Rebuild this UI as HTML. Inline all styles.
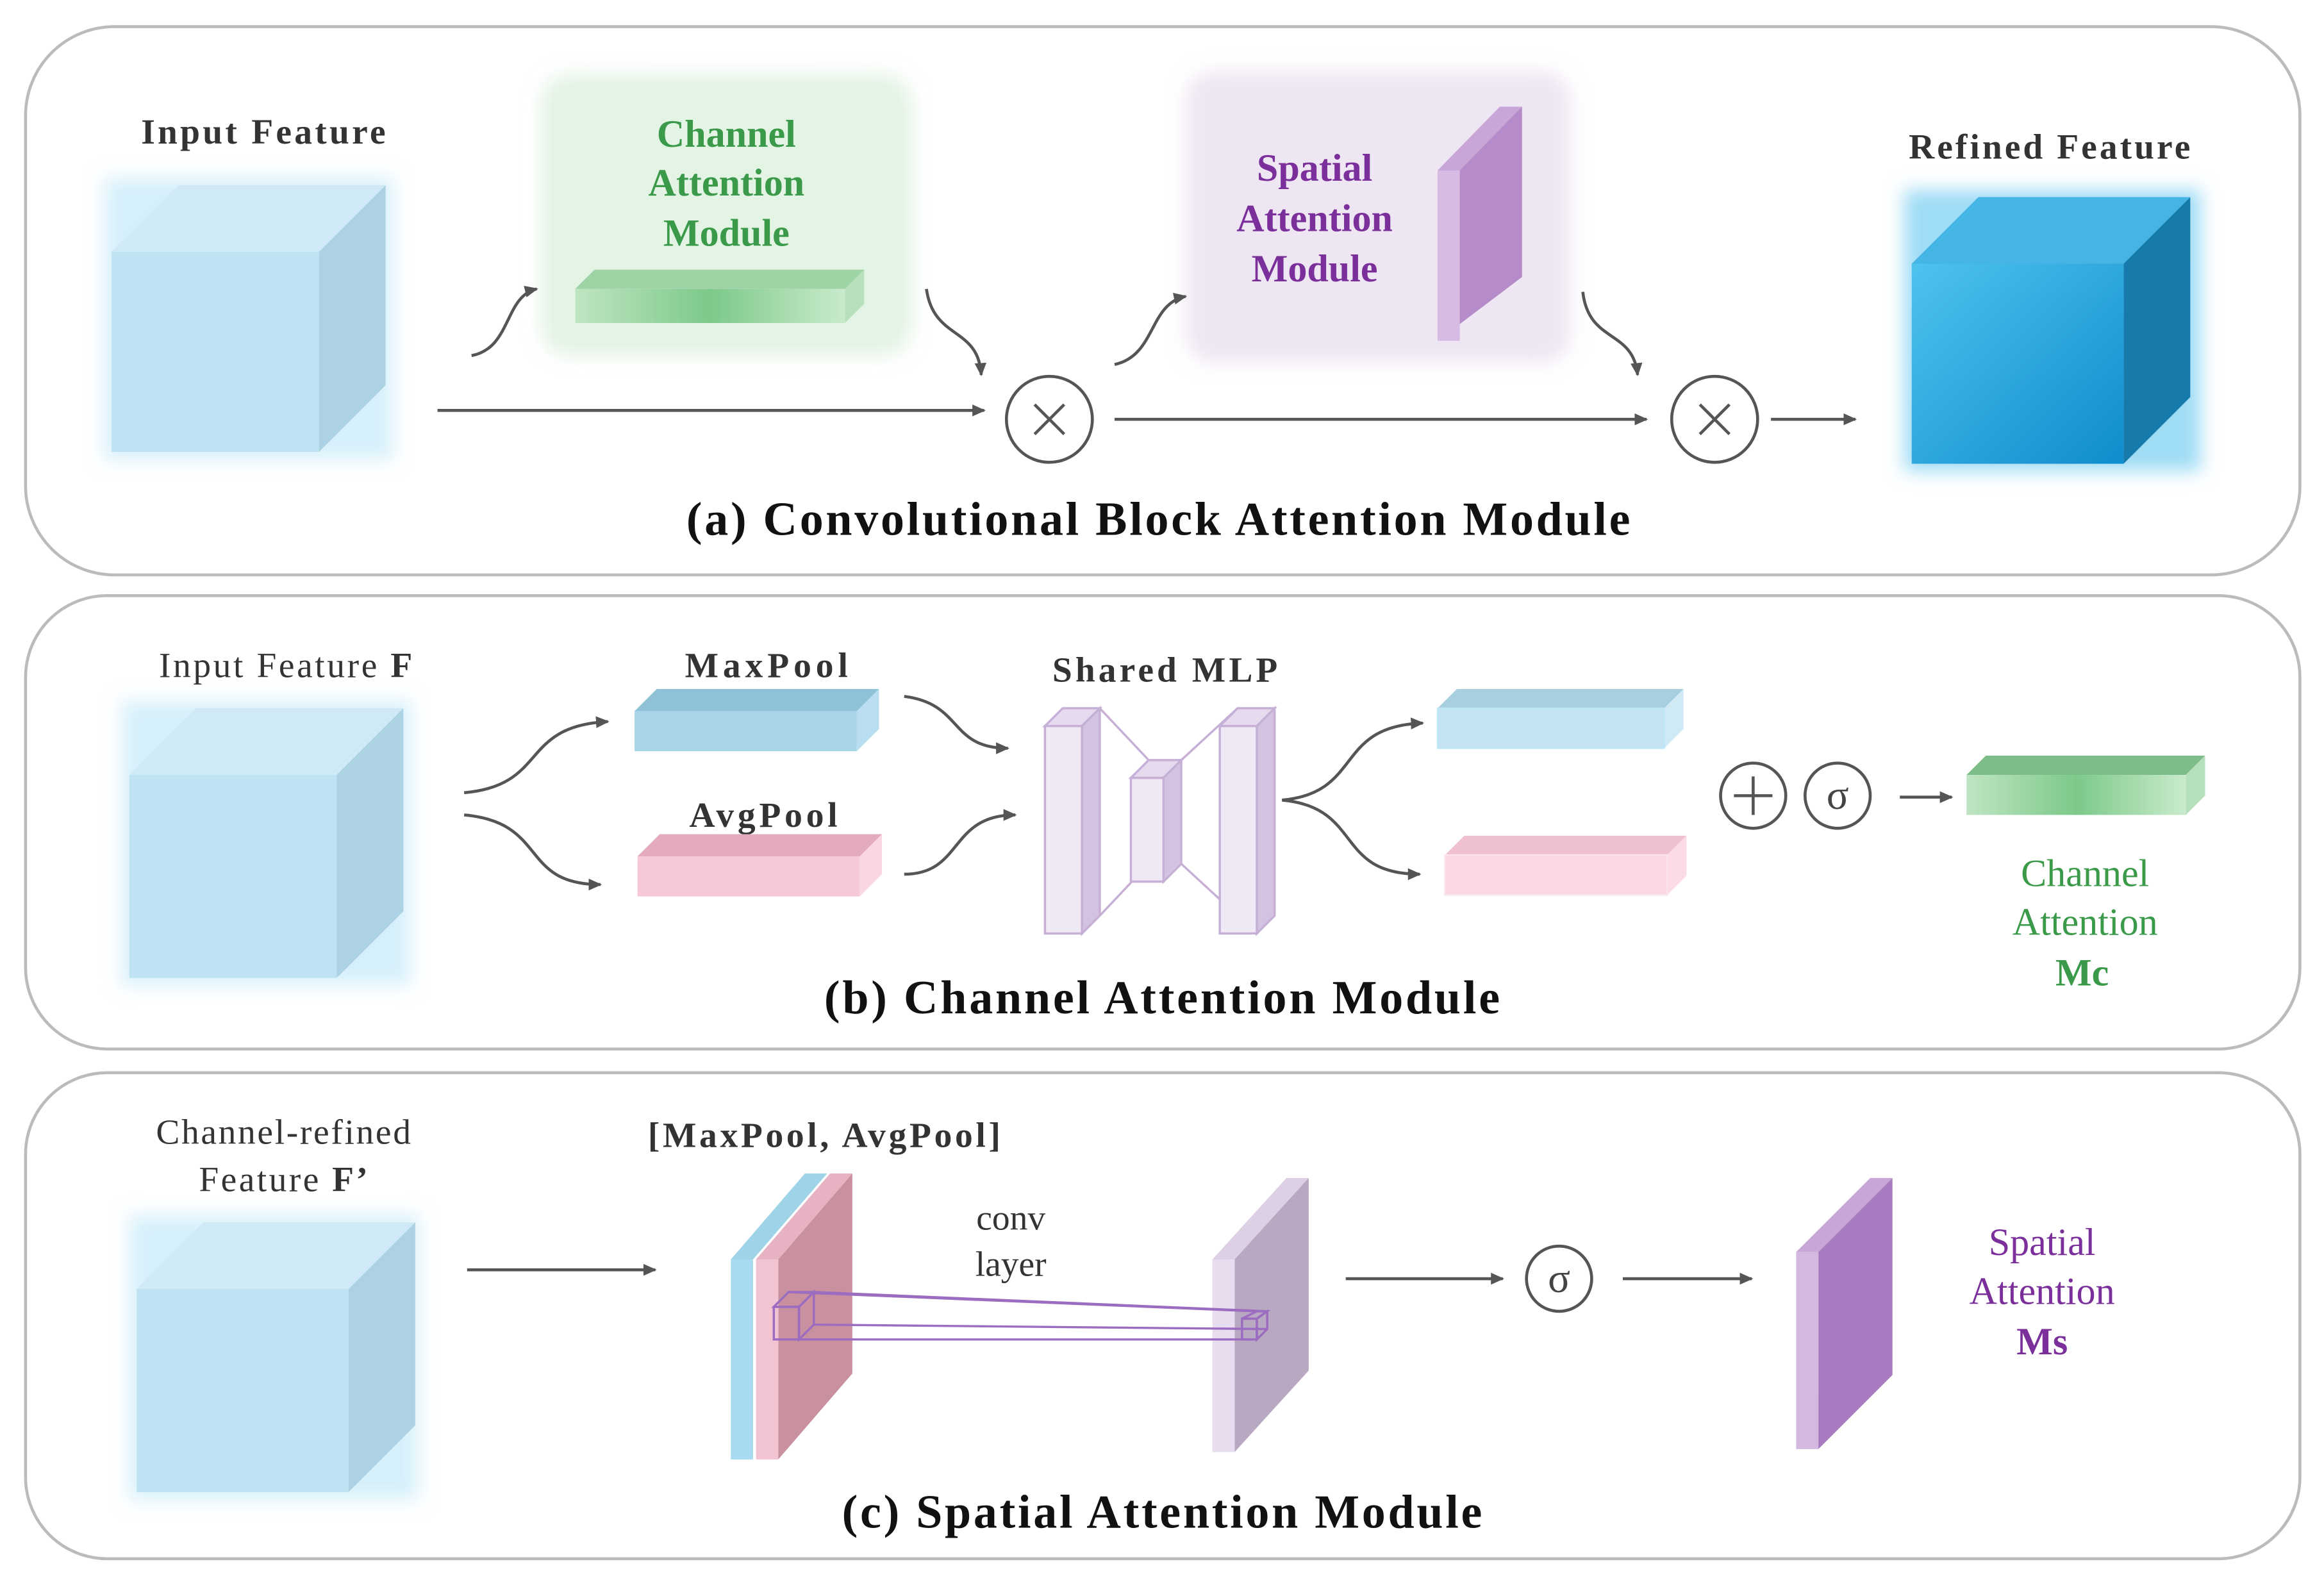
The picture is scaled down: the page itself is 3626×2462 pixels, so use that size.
<!DOCTYPE html>
<html><head><meta charset="utf-8"><style>
html,body{margin:0;padding:0;background:#fff;}
svg{display:block;}
text{font-family:"Liberation Serif",serif;}
</style></head><body>
<svg width="3626" height="2462" viewBox="0 0 1568 1065" xmlns="http://www.w3.org/2000/svg">
<defs>
<marker id="ah" markerWidth="10" markerHeight="10" refX="8" refY="5" orient="auto" markerUnits="userSpaceOnUse"><path d="M0,1 L9,5 L0,9 Z" fill="#555"/></marker>
<filter id="glow" x="-30%" y="-30%" width="160%" height="160%"><feGaussianBlur stdDeviation="6"/></filter>
<linearGradient id="gbar" x1="0" x2="1"><stop offset="0" stop-color="#bfe5c3"/><stop offset="0.5" stop-color="#7dc98a"/><stop offset="1" stop-color="#c9ebcc"/></linearGradient>
<linearGradient id="bcube" x1="0" y1="0" x2="1" y2="1"><stop offset="0" stop-color="#4fc3ee"/><stop offset="1" stop-color="#0f8ccc"/></linearGradient>
</defs>
<g fill="none" stroke="#bbb" stroke-width="2">
<rect x="17" y="18" width="1535" height="370" rx="60"/>
<rect x="17" y="402" width="1535" height="306" rx="55"/>
<rect x="17" y="724" width="1535" height="328" rx="55"/>
</g>

<!-- Panel a -->
<g>
<rect x="70" y="120" width="195" height="190" fill="#d6f0fb" filter="url(#glow)"/>
<polygon points="75,170 120,125 260,125 215,170" fill="#cfeaf6"/>
<polygon points="215,170 260,125 260,260 215,305" fill="#acd2e3"/>
<rect x="75" y="170" width="140" height="135" fill="#bfe3f2"/>
</g>
<text x="95" y="97" font-size="24" font-weight="bold" fill="#333" textLength="165" lengthAdjust="spacing">Input Feature</text>
<rect x="365" y="50" width="250" height="190" rx="20" fill="#e3f3e4" filter="url(#glow)"/>
<polygon points="388,195 401,182 583,182 570,195" fill="#9ed3a6"/>
<polygon points="570,195 583,182 583,205 570,218" fill="#b8e0bd"/>
<rect x="388" y="195" width="182" height="23" fill="url(#gbar)"/>
<g font-size="26" font-weight="bold" fill="#3a9a4a" text-anchor="middle">
<text x="490" y="99">Channel</text><text x="490" y="132">Attention</text><text x="490" y="166">Module</text></g>
<rect x="800" y="48" width="260" height="197" rx="20" fill="#efe6f3" filter="url(#glow)"/>
<polygon points="970,115 1027,72 1027,187 970,230" fill="#b58bc9"/>
<rect x="970" y="115" width="15" height="115" fill="#d6bce2"/>
<polygon points="970,115 985,115 1027,72 1027,72 1012,72" fill="#c9a6d8"/>
<g font-size="26" font-weight="bold" fill="#7a2f9a" text-anchor="middle">
<text x="887" y="122">Spatial</text><text x="887" y="156">Attention</text><text x="887" y="190">Module</text></g>
<text x="1288" y="107" font-size="24" font-weight="bold" fill="#333" textLength="190" lengthAdjust="spacing">Refined Feature</text>
<g>
<rect x="1285" y="128" width="200" height="190" fill="#9fdcf5" filter="url(#glow)"/>
<polygon points="1290,178 1335,133 1478,133 1433,178" fill="#45b5e6"/>
<polygon points="1433,178 1478,133 1478,268 1433,313" fill="#167aab"/>
<rect x="1290" y="178" width="143" height="135" fill="url(#bcube)"/>
</g>
<g stroke="#555" stroke-width="2" fill="none">
<line x1="295" y1="277" x2="664" y2="277" marker-end="url(#ah)"/>
<circle cx="708" cy="283" r="29"/>
<path d="M698,273 L718,293 M718,273 L698,293"/>
<line x1="752" y1="283" x2="1111" y2="283" marker-end="url(#ah)"/>
<circle cx="1157" cy="283" r="29"/>
<path d="M1147,273 L1167,293 M1167,273 L1147,293"/>
<line x1="1195" y1="283" x2="1252" y2="283" marker-end="url(#ah)"/>
<path d="M318,240 C345,235 340,200 362,195" marker-end="url(#ah)"/>
<path d="M625,195 C630,230 660,220 662,253" marker-end="url(#ah)"/>
<path d="M752,246 C780,240 775,205 800,200" marker-end="url(#ah)"/>
<path d="M1068,197 C1072,232 1102,222 1105,253" marker-end="url(#ah)"/>
</g>
<text x="463" y="361" font-size="32" font-weight="bold" fill="#111" textLength="637" lengthAdjust="spacing">(a) Convolutional Block Attention Module</text>

<!-- Panel b -->
<g>
<rect x="82" y="473" width="195" height="192" fill="#d6f0fb" filter="url(#glow)"/>
<polygon points="87,523 132,478 272,478 227,523" fill="#cfeaf6"/>
<polygon points="227,523 272,478 272,615 227,660" fill="#acd2e3"/>
<rect x="87" y="523" width="140" height="137" fill="#bfe3f2"/>
</g>
<text x="107" y="457" font-size="24" fill="#333" textLength="171" lengthAdjust="spacing">Input Feature <tspan font-weight="bold">F</tspan></text>
<text x="462" y="457" font-size="24" font-weight="bold" fill="#333" textLength="110" lengthAdjust="spacing">MaxPool</text>
<polygon points="428,480 443,465 593,465 578,480" fill="#8fc2d6"/>
<polygon points="578,480 593,465 593,492 578,507" fill="#b9def0"/>
<rect x="428" y="480" width="150" height="27" fill="#a8d5e8"/>
<text x="465" y="558" font-size="24" font-weight="bold" fill="#333" textLength="100" lengthAdjust="spacing">AvgPool</text>
<polygon points="430,578 445,563 595,563 580,578" fill="#e3aabd"/>
<polygon points="580,578 595,563 595,590 580,605" fill="#f8d6e2"/>
<rect x="430" y="578" width="150" height="27" fill="#f6c8d8"/>
<g stroke="#555" stroke-width="2" fill="none">
<path d="M313,535 C370,530 350,490 410,487" marker-end="url(#ah)"/>
<path d="M313,550 C370,555 350,597 405,597" marker-end="url(#ah)"/>
<path d="M610,470 C650,475 640,505 680,505" marker-end="url(#ah)"/>
<path d="M610,590 C650,590 640,550 685,550" marker-end="url(#ah)"/>
<path d="M865,540 C920,535 900,490 960,488" marker-end="url(#ah)"/>
<path d="M865,540 C920,545 900,590 958,590" marker-end="url(#ah)"/>
</g>
<text x="710" y="460" font-size="24" font-weight="bold" fill="#333" textLength="152" lengthAdjust="spacing">Shared MLP</text>
<g stroke="#c7b0d6" stroke-width="1.5">
<line x1="742" y1="478" x2="775" y2="513"/><line x1="742" y1="618" x2="775" y2="583"/>
<line x1="797" y1="513" x2="835" y2="478"/><line x1="797" y1="583" x2="835" y2="618"/>
<polygon points="705,490 717,478 742,478 730,490" fill="#e6dbee"/>
<polygon points="730,490 742,478 742,618 730,630" fill="#d4c3e0"/>
<rect x="705" y="490" width="25" height="140" fill="#efe8f5"/>
<polygon points="763,525 775,513 797,513 785,525" fill="#e6dbee"/>
<polygon points="785,525 797,513 797,583 785,595" fill="#d4c3e0"/>
<rect x="763" y="525" width="22" height="70" fill="#efe8f5"/>
<polygon points="823,490 835,478 860,478 848,490" fill="#e6dbee"/>
<polygon points="848,490 860,478 860,618 848,630" fill="#d4c3e0"/>
<rect x="823" y="490" width="25" height="140" fill="#efe8f5"/>
</g>
<polygon points="970,478 983,465 1136,465 1123,478" fill="#a6cfe0"/>
<polygon points="1123,478 1136,465 1136,492 1123,505" fill="#cfe9f5"/>
<rect x="970" y="478" width="153" height="27" fill="#c4e4f3" stroke="#bfe6f7"/>
<polygon points="975,577 988,564 1138,564 1125,577" fill="#efc1cf"/>
<polygon points="1125,577 1138,564 1138,591 1125,604" fill="#fbdbe6"/>
<rect x="975" y="577" width="150" height="27" fill="#f9d8e3" stroke="#fbe3ec"/>
<g stroke="#555" stroke-width="2" fill="none">
<circle cx="1183" cy="537" r="22"/><path d="M1183,524 V550 M1170,537 H1196"/>
<circle cx="1240" cy="537" r="22"/>
<line x1="1282" y1="538" x2="1317" y2="538" marker-end="url(#ah)"/>
</g>
<text x="1240" y="546" font-size="28" text-anchor="middle" fill="#444">σ</text>
<polygon points="1327,523 1340,510 1488,510 1475,523" fill="#7dbd89"/>
<polygon points="1475,523 1488,510 1488,537 1475,550" fill="#b5e0bc"/>
<rect x="1327" y="523" width="148" height="27" fill="url(#gbar)"/>
<g font-size="26" fill="#3a9a4a" text-anchor="middle">
<text x="1407" y="598">Channel</text><text x="1407" y="631">Attention</text><text x="1405" y="665" font-weight="bold">Mc</text></g>
<text x="556" y="684" font-size="32" font-weight="bold" fill="#111" textLength="456" lengthAdjust="spacing">(b) Channel Attention Module</text>

<!-- Panel c -->
<g>
<rect x="87" y="820" width="195" height="192" fill="#d6f0fb" filter="url(#glow)"/>
<polygon points="92,870 137,825 280,825 235,870" fill="#cfeaf6"/>
<polygon points="235,870 280,825 280,962 235,1007" fill="#acd2e3"/>
<rect x="92" y="870" width="143" height="137" fill="#bfe3f2"/>
</g>
<g font-size="24" fill="#333">
<text x="105" y="772" textLength="172" lengthAdjust="spacing">Channel-refined</text><text x="134" y="804" textLength="114" lengthAdjust="spacing">Feature <tspan font-weight="bold">F’</tspan></text></g>
<text x="437" y="774" font-size="24" font-weight="bold" fill="#333" textLength="238" lengthAdjust="spacing">[MaxPool, AvgPool]</text>
<g stroke="#555" stroke-width="2" fill="none">
<line x1="315" y1="857" x2="442" y2="857" marker-end="url(#ah)"/>
<line x1="908" y1="863" x2="1014" y2="863" marker-end="url(#ah)"/>
<circle cx="1052" cy="863" r="22"/>
<line x1="1095" y1="863" x2="1182" y2="863" marker-end="url(#ah)"/>
</g>
<text x="1052" y="872" font-size="28" text-anchor="middle" fill="#444">σ</text>
<polygon points="493,850 543,792 558,792 508,850" fill="#9fd3e8"/>
<rect x="493" y="850" width="15" height="135" fill="#a8dbf0"/>
<polygon points="510,850 560,792 575,792 525,850" fill="#e7b3c3"/>
<polygon points="525,850 575,792 575,927 525,985" fill="#c9909f"/>
<rect x="510" y="850" width="15" height="135" fill="#f2c4d2"/>
<polygon points="818,850 868,795 883,795 833,850" fill="#ddd0e4"/>
<polygon points="833,850 883,795 883,925 833,980" fill="#b9a8c2"/>
<rect x="818" y="850" width="15" height="130" fill="#e8dcef"/>
<g stroke="#9b6cc0" stroke-width="1.5" fill="none">
<rect x="522" y="882" width="17" height="22"/>
<polygon points="522,882 532,872 549,872 539,882"/>
<polygon points="539,882 549,872 549,894 539,904"/>
<line x1="549" y1="872" x2="855" y2="885"/>
<line x1="539" y1="904" x2="838" y2="904"/>
<line x1="549" y1="894" x2="855" y2="897"/>
<line x1="532" y1="872" x2="848" y2="885"/>
<rect x="838" y="890" width="10" height="14"/>
<polygon points="838,890 848,885 855,885 848,890"/>
<polygon points="848,890 855,885 855,897 848,904"/>
</g>
<g font-size="24" text-anchor="middle" fill="#333"><text x="682" y="830">conv</text><text x="682" y="861">layer</text></g>
<polygon points="1212,845 1262,795 1277,795 1227,845" fill="#c9a6d8"/>
<polygon points="1227,845 1277,795 1277,928 1227,978" fill="#a87bc0"/>
<rect x="1212" y="845" width="15" height="133" fill="#d3b8e0"/>
<g font-size="26" fill="#7a2f9a" text-anchor="middle">
<text x="1378" y="847">Spatial</text><text x="1378" y="880">Attention</text><text x="1378" y="914" font-weight="bold">Ms</text></g>
<text x="568" y="1031" font-size="32" font-weight="bold" fill="#111" textLength="432" lengthAdjust="spacing">(c) Spatial Attention Module</text>
</svg>
</body></html>
